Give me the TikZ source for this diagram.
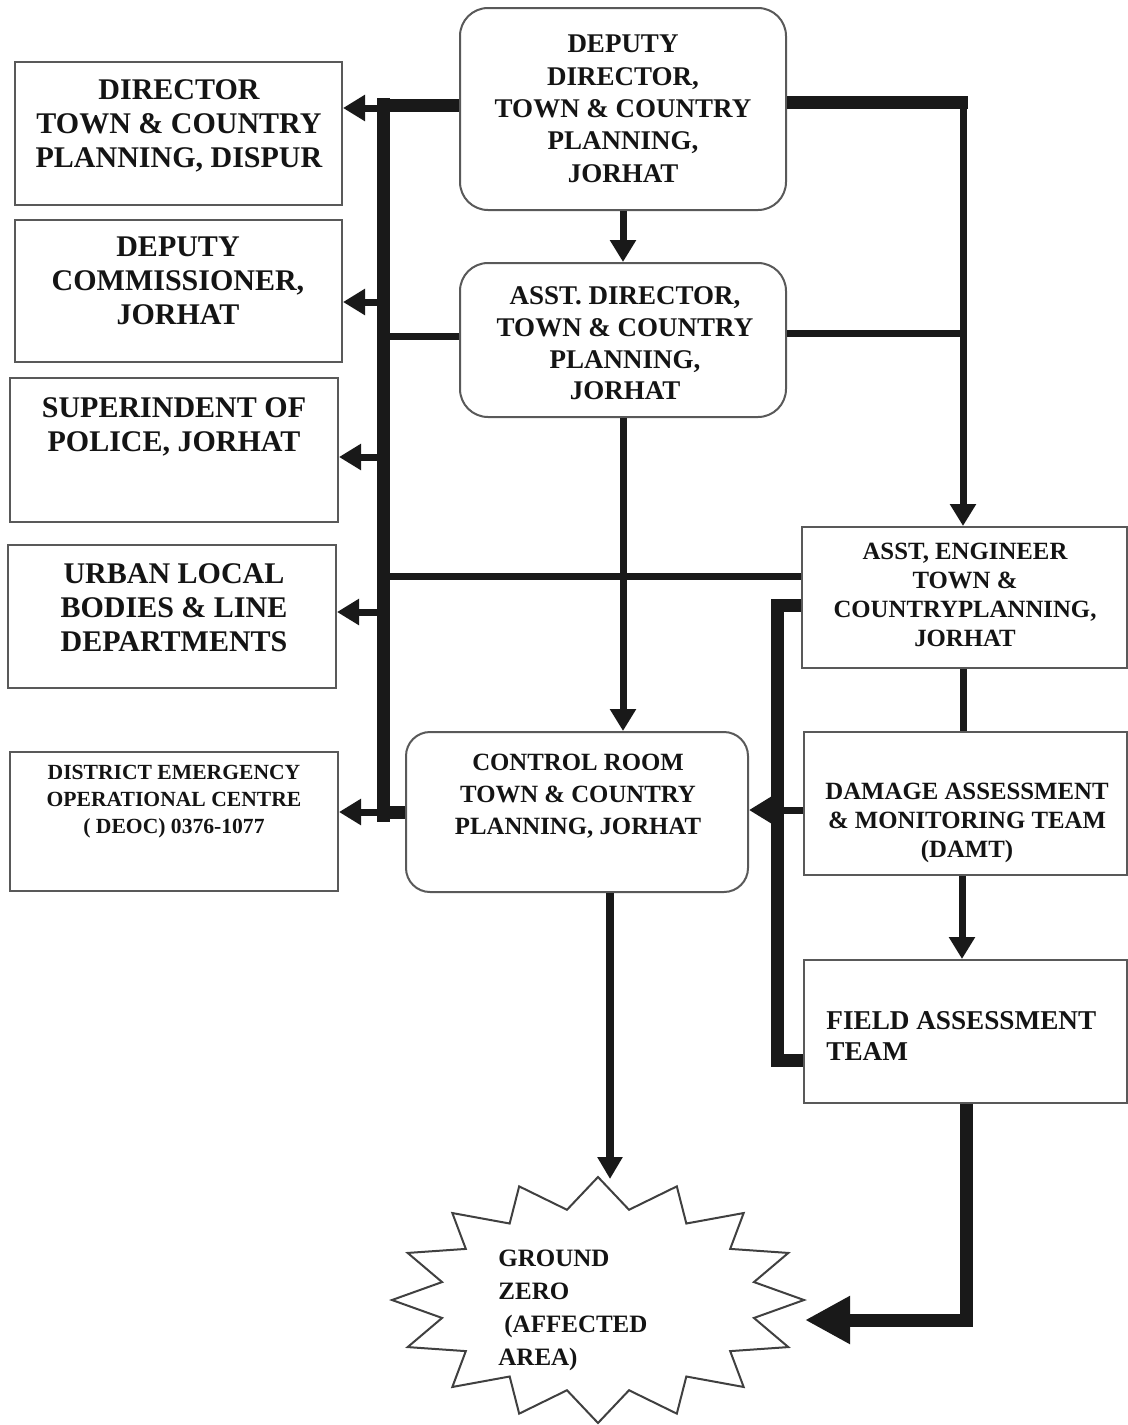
\documentclass[tikz,border=0pt]{standalone}
\usepackage{fontspec}
\setmainfont{Liberation Serif}
\usetikzlibrary{arrows.meta,fit}
\begin{document}
\begin{tikzpicture}[x=0.5pt,y=-0.5pt,
  box/.style={draw=black!65,line width=1pt,inner sep=0pt,fill=white},
  rbox/.style={box,rounded corners=14pt},
  lbl/.style={inner sep=0pt,align=center,text=black!92},
  fA/.style={lbl,font=\fontsize{15}{17}\selectfont\bfseries},
  fDD/.style={lbl,font=\fontsize{13.5}{16.2}\selectfont\bfseries},
  fAD/.style={lbl,font=\fontsize{13.5}{15.8}\selectfont\bfseries},
  fCR/.style={lbl,font=\fontsize{12.4}{16}\selectfont\bfseries},
  fAE/.style={lbl,font=\fontsize{12.4}{14.5}\selectfont\bfseries},
  fDE/.style={lbl,font=\fontsize{10.8}{13.5}\selectfont\bfseries},
  fFT/.style={lbl,align=left,anchor=west,font=\fontsize{13.6}{15.5}\selectfont\bfseries},
  fGZ/.style={lbl,align=left,anchor=west,font=\fontsize{12.5}{16.5}\selectfont\bfseries},
  thk/.style={line width=6.5pt,line join=miter,draw=black!90},
  med/.style={line width=3.5pt,draw=black!90},
  arr/.style={med,-{Triangle[length=11pt,width=12.5pt]}},
  bigarr/.style={thk,-{Triangle[length=22.5pt,width=22.5pt]}},
]
\useasboundingbox (0,0) rectangle (1128,1425);

% ---------- boxes ----------
\node[box,fit={(15,62)(342,205)}] (dir) {};
\node[box,fit={(15,220)(342,362)}] (dc) {};
\node[box,fit={(10,378)(338,522)}] (sp) {};
\node[box,fit={(8,545)(336,688)}] (ulb) {};
\node[box,fit={(10,752)(338,891)}] (deoc) {};
\node[rbox,fit={(460,8)(786,210)}] (dd) {};
\node[rbox,fit={(460,263)(786,417)}] (ad) {};
\node[rbox,rounded corners=12pt,fit={(406,732)(748,892)}] (cr) {};
\node[box,fit={(802,527)(1127,668)}] (ae) {};
\node[box,fit={(804,732)(1127,875)}] (damt) {};
\node[box,fit={(804,960)(1127,1103)}] (fat) {};

% ---------- texts ----------
\node[fA] (dir-t) at (179,127) {\strut DIRECTOR\\TOWN \& COUNTRY\\PLANNING, DISPUR\strut};
\node[fA] (dc-t) at (178,284) {\strut DEPUTY\\COMMISSIONER,\\JORHAT\strut};
\node[fA] (sp-t) at (174,428) {\strut SUPERINDENT OF\\POLICE, JORHAT\strut};
\node[fA] (ulb-t) at (174,611) {\strut URBAN LOCAL\\BODIES \& LINE\\DEPARTMENTS\strut};
\node[fDE] (deoc-t) at (174,801) {\strut DISTRICT EMERGENCY\\OPERATIONAL CENTRE\\( DEOC) 0376-1077\strut};
\node[fDD] (dd-t) at (623,111) {\strut DEPUTY\\DIRECTOR,\\TOWN \& COUNTRY\\PLANNING,\\JORHAT\strut};
\node[fAD] (ad-t) at (625,346) {\strut ASST. DIRECTOR,\\TOWN \& COUNTRY\\PLANNING,\\JORHAT\strut};
\node[fCR] (cr-t) at (578,796) {\strut CONTROL ROOM\\TOWN \& COUNTRY\\PLANNING, JORHAT\strut};
\node[fAE] (ae-t) at (965,597) {\strut ASST, ENGINEER\\TOWN \&\\COUNTRYPLANNING,\\JORHAT\strut};
\node[fAE] (damt-t) at (967,823) {\strut DAMAGE ASSESSMENT\\\& MONITORING TEAM\\(DAMT)\strut};
\node[fFT] (fat-t) at (826,1039) {\strut FIELD ASSESSMENT\\TEAM\strut};

% ---------- ground zero star ----------
\coordinate (gz) at (598,1300);
\draw[draw=black!75,line width=1pt,fill=white,line join=miter]
  plot[domain=0:31,samples=32,variable=\k]
  ({598+cos(\k*11.25)*(182.5+23.5*cos(\k*180))},{1300-sin(\k*11.25)*(107.5+15.5*cos(\k*180))}) -- cycle;
\node[fGZ] (gz-t) at (498,1309) {\strut GROUND\\ZERO\\\hspace{3pt}(AFFECTED\\AREA)\strut};

% ---------- left bus ----------
\coordinate (bt) at (383,98);
\coordinate (bb) at (383,822);
\draw[thk,line cap=butt] (bt) -- (bb);
\coordinate (hDD) at (385,105);
\draw[thk] (hDD -| dd.west) -- (hDD);
\coordinate (aDir) at (383,108);
\draw[arr] (aDir) -- (aDir -| dir.east);
\coordinate (aDC) at (383,302);
\draw[arr] (aDC) -- (aDC -| dc.east);
\coordinate (hAD) at (383,336);
\draw[med] (hAD) -- (hAD -| ad.west);
\coordinate (aSP) at (383,457);
\draw[arr] (aSP) -- (aSP -| sp.east);
\coordinate (hAE) at (383,576);
\draw[med] (hAE) -- (hAE -| ae.west);
\coordinate (aULB) at (383,612);
\draw[arr] (aULB) -- (aULB -| ulb.east);
\coordinate (hCR) at (383,812);
\draw[thk] (hCR) -- (hCR -| cr.west);
\draw[arr] (hCR) -- (hCR -| deoc.east);

% ---------- right side ----------
\coordinate (rcT) at (968,102.5);
\draw[thk] (rcT -| dd.east) -- (rcT);
\coordinate (rv) at (963,97);
\draw[arr] (rv) -- (rv |- ae.north);
\coordinate (hADr) at (963,333);
\draw[med] (hADr -| ad.east) -- (hADr);

% ---------- vertical flow ----------
\draw[arr] (dd.south) -- (ad.north);
\draw[arr] (ad.south) -- (ad.south |- cr.north);
\coordinate (vAE) at (963,700);
\draw[med] (vAE |- ae.south) -- (vAE |- damt.north);
\coordinate (hDAMT) at (780,810);
\draw[arr] (hDAMT -| damt.west) -- (hDAMT -| cr.east);
\coordinate (vDAMT) at (962,900);
\draw[arr] (vDAMT |- damt.south) -- (vDAMT |- fat.north);

% ---------- bracket ----------
\coordinate (bk1) at (777,605);
\coordinate (bk2) at (777,1060);
\draw[thk] (bk1 -| ae.west) -- (bk1) -- (bk2) -- (bk2 -| fat.west);

% ---------- to ground zero ----------
\coordinate (gzTop) at (610,1179);
\draw[line width=4pt,draw=black!90,-{Triangle[length=11pt,width=12pt]}] (gzTop |- cr.south) -- (gzTop);
\coordinate (fc) at (966,1320);
\coordinate (gzR) at (805,1320);
\draw[bigarr] (fc |- fat.south) -- (fc) -- (gzR);
\end{tikzpicture}
\end{document}
